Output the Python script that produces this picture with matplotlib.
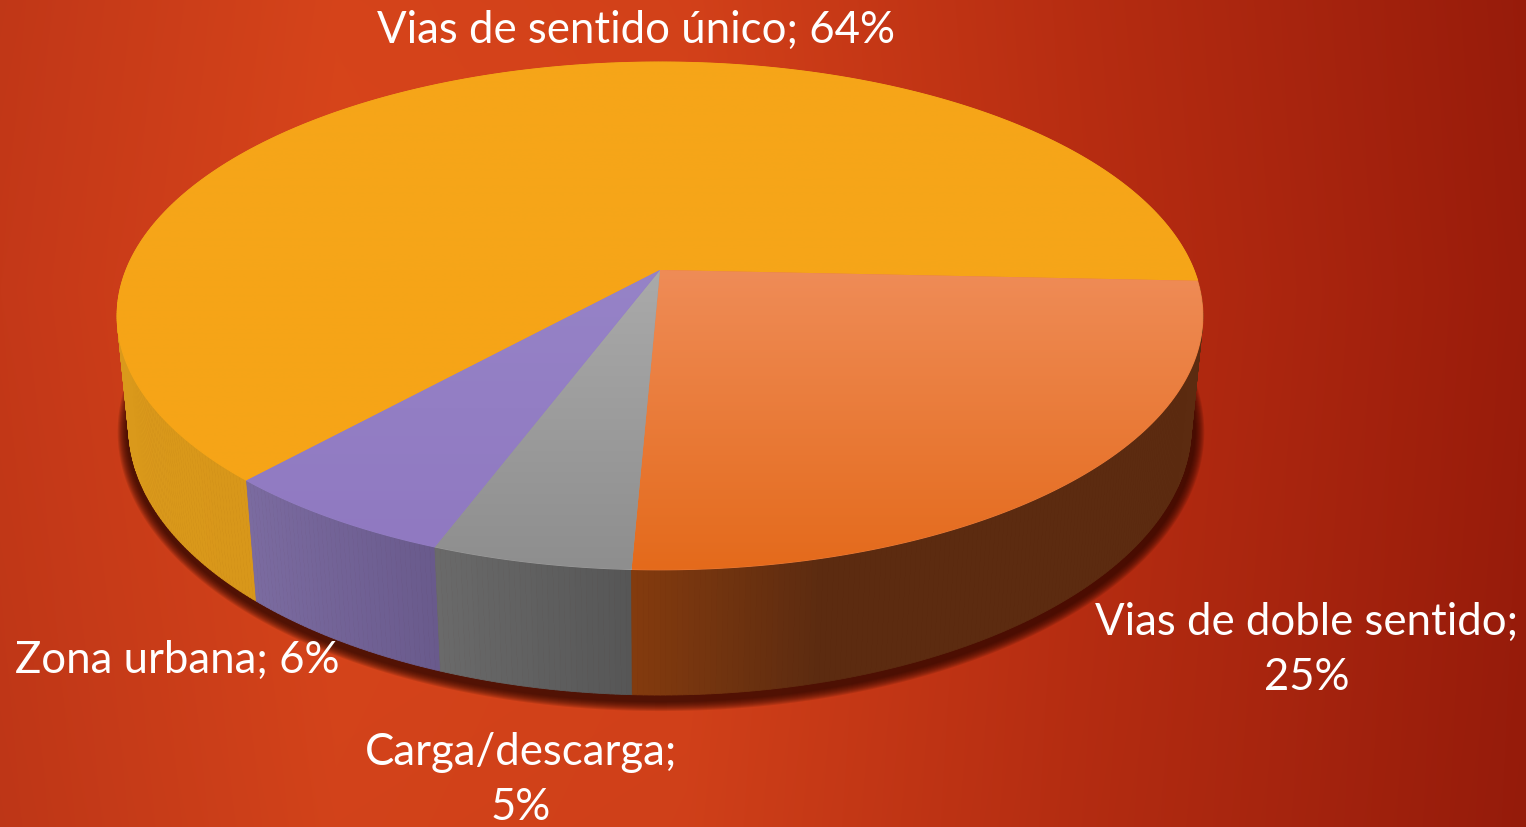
import numpy as np
import matplotlib.pyplot as plt
from matplotlib.patches import Polygon
from matplotlib.collections import PolyCollection
from matplotlib.colors import to_rgb

# slice data (clockwise, starting with the big slice)
labels = ["Vias de sentido único", "Vias de doble sentido", "Carga/descarga", "Zona urbana"]
values = [64, 25, 5, 6]
label_text = ["Vias de sentido único; 64%", "Vias de doble sentido;\n25%",
              "Carga/descarga;\n5%", "Zona urbana; 6%"]

# colours: top face (upper / lower end of a vertical gradient), side wall (left / right)
top_hi = ["#F6A619", "#EF8C57", "#AAAAAA", "#9683C7"]
top_lo = ["#F6A417", "#E46A1B", "#8E8E8E", "#9079C1"]
side_l = ["#DA991B", "#843B0E", "#6A6A6A", "#7B6BA0"]
side_r = ["#C8850F", "#5C2B10", "#565656", "#695A8C"]
side_ramp = [1.0, 3.0, 1.0, 1.0]

# background colour stops across the width
bg_pos = [0.0, 0.22, 0.45, 0.7, 1.0]
bg_col = ["#C43818", "#D9451B", "#D6421A", "#BA2E12", "#9A1C0B"]

# layout
W, H_PX = 1526, 827
label_xy = [(636, 30), (1307, 650), (521, 780), (177, 660)]
start_deg = 227.9

# simple perspective camera for the 3D pie
ELEV = np.radians(26.85)
DIST = 4.93
FOC_X = 2632
FOC_Y = 2680
CX, CY = 660, 270
THICK = 0.23


def proj(theta, z):
    x = np.cos(theta)
    y = np.sin(theta)
    depth = DIST + y * np.cos(ELEV) - z * np.sin(ELEV)
    return CX + FOC_X * x / depth, CY - FOC_Y * (y * np.sin(ELEV) + z * np.cos(ELEV)) / depth


def mix(c1, c2, t):
    a, b = np.array(to_rgb(c1)), np.array(to_rgb(c2))
    return a + (b - a) * t


fig = plt.figure(figsize=(W / 100, H_PX / 100), dpi=100)
ax = fig.add_axes([0, 0, 1, 1])
ax.set_xlim(0, W)
ax.set_ylim(H_PX, 0)
ax.axis("off")

# background gradient
u = np.linspace(0, 1, W)
rgb = np.array([to_rgb(c) for c in bg_col])
row = np.column_stack([np.interp(u, bg_pos, rgb[:, k]) for k in range(3)])
v = np.linspace(0, 1, H_PX)[:, None, None]
bg = row[None, :, :] * (1 - 0.05 * np.abs(v - 0.35))
ax.imshow(bg, extent=(0, W, H_PX, 0), aspect="auto", zorder=0)

# shadow under the pie
th_all = np.linspace(0, 2 * np.pi, 400)
bx, by = proj(th_all, -THICK)
mx, my = bx.mean(), by.mean()
rx, ry = bx.max() - mx, by.max() - my
for k in range(10, 0, -1):
    s = 1 + (2 + k * 1.0) / rx
    sy_ = 1 + (2 + k * 1.0) / ry
    pts = np.column_stack([mx + (bx - mx) * s + 1, my + (by - my) * sy_ + 4])
    ax.add_patch(Polygon(pts, closed=True, facecolor="#2A0600", edgecolor="none",
                         alpha=0.13, zorder=1))

# slice angles
fracs = np.array(values) / np.sum(values)
ends = start_deg - np.cumsum(fracs) * 360
starts = np.concatenate([[start_deg], ends[:-1]])

# side walls, drawn back to front
quads, qcols, qdepth = [], [], []
for i in range(len(values)):
    a0, a1 = np.radians(starts[i]), np.radians(ends[i])
    n = max(int(abs(starts[i] - ends[i]) * 2), 4)
    th = np.linspace(a0, a1, n + 1)
    tx, ty = proj(th, 0)
    lx, ly = proj(th, -THICK)
    vis = np.sin(th) < 0.05
    xmin = tx[vis].min() if vis.any() else tx.min()
    xmax = tx[vis].max() if vis.any() else tx.max()
    for j in range(n):
        q = [(tx[j], ty[j]), (tx[j + 1], ty[j + 1]), (lx[j + 1], ly[j + 1]), (lx[j], ly[j])]
        xm = 0.5 * (tx[j] + tx[j + 1])
        tt = np.clip((xm - xmin) / max(xmax - xmin, 1) * side_ramp[i], 0, 1)
        quads.append(q)
        qcols.append(mix(side_l[i], side_r[i], tt))
        qdepth.append(np.sin(0.5 * (th[j] + th[j + 1])))
order = np.argsort(qdepth)[::-1]
pc = PolyCollection([quads[o] for o in order], facecolors=[qcols[o] for o in order],
                    edgecolors=[qcols[o] for o in order], linewidths=0.6, zorder=2)
ax.add_collection(pc)

# top faces with vertical gradient
for i in range(len(values)):
    a0, a1 = np.radians(starts[i]), np.radians(ends[i])
    n = max(int(abs(starts[i] - ends[i]) * 2), 4)
    th = np.linspace(a0, a1, n + 1)
    tx, ty = proj(th, 0)
    pts = np.column_stack([np.concatenate([[CX], tx]), np.concatenate([[CY], ty])])
    y0, y1 = pts[:, 1].min(), pts[:, 1].max()
    mid = mix(top_hi[i], top_lo[i], 0.5)
    poly = Polygon(pts, closed=True, facecolor=mid, edgecolor=mid, linewidth=0.8, zorder=3)
    ax.add_patch(poly)
    g = np.linspace(0, 1, 256)[:, None, None]
    grad = np.array(to_rgb(top_hi[i]))[None, None, :] * (1 - g) + np.array(to_rgb(top_lo[i]))[None, None, :] * g
    grad = np.repeat(grad, 2, axis=1)
    im = ax.imshow(grad, extent=(pts[:, 0].min(), pts[:, 0].max(), y1, y0),
                   aspect="auto", zorder=4, interpolation="bilinear")
    im.set_clip_path(poly)

ax.set_xlim(0, W)
ax.set_ylim(H_PX, 0)

# data labels
for txt, (x, y) in zip(label_text, label_xy):
    ax.text(x, y, txt, color="white", fontsize=31.5, family=["Lato", "DejaVu Sans"],
            ha="center", va="center", multialignment="center", linespacing=1.42, zorder=6)

fig.savefig("out.png", dpi=100)
